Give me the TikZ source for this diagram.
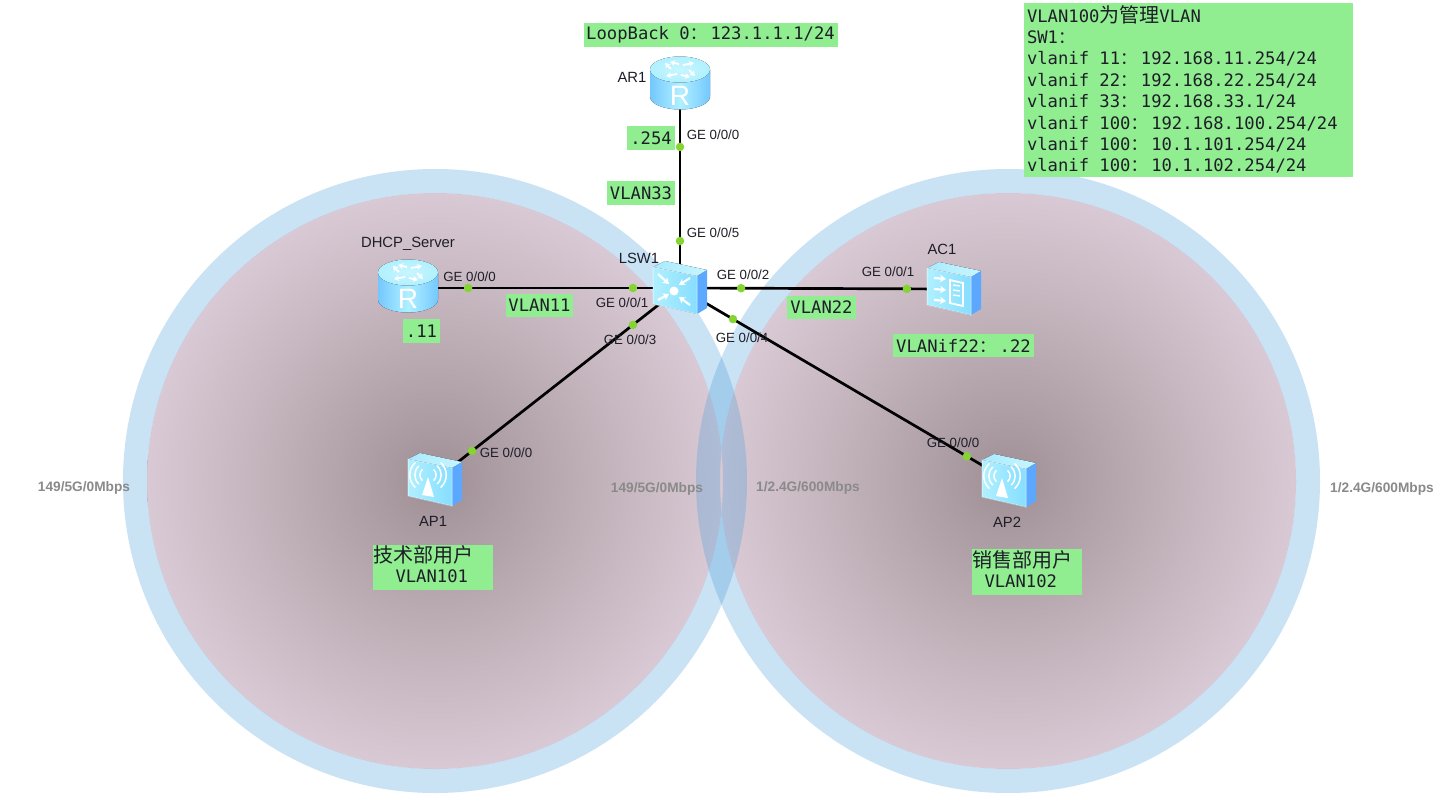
\documentclass[tikz,border=0pt]{standalone}
\usepackage{fontspec}
\setmainfont{Liberation Sans}
\newfontfamily\monof{DejaVu Sans Mono}
\newfontfamily\cjkf{Noto Sans CJK SC}
\usetikzlibrary{arrows.meta}
\definecolor{tagg}{HTML}{90EE90}
\definecolor{ringb}{HTML}{4F9FDB}
\definecolor{disc0}{HTML}{9F8F95}
\definecolor{disc1}{HTML}{BEAFB7}
\definecolor{disc2}{HTML}{D9C9D4}
\definecolor{portg}{HTML}{84D432}
\definecolor{speedc}{HTML}{8A8A8A}
\definecolor{ink}{HTML}{1E1E28}
\definecolor{IconTop}{HTML}{A8EAFF}
\definecolor{IconTopB}{HTML}{C8F6FF}
\definecolor{IconFrontA}{HTML}{B0F0FF}
\definecolor{IconFrontB}{HTML}{86DEFF}
\definecolor{IconSide}{HTML}{5CA8FF}
\definecolor{IconBody}{HTML}{74C8FF}
\pgfdeclareradialshading{discshade}{\pgfpointorigin}{color(0bp)=(disc0); color(13bp)=(disc1); color(25bp)=(disc2); color(50bp)=(disc2)}
\newcommand\fwc{\makebox[20.7pt][l]{\cjkf\fontsize{17}{17}\selectfont ：}}
\newcommand\cn[1]{{\cjkf\fontsize{20}{20}\selectfont #1}}
\newcommand\boxbody{%
  \fill[left color=IconTop,right color=IconTopB] (-27,-21) -- (-15,-27) -- (27,-18) -- (17,-12) -- cycle;
  \fill[left color=IconFrontA,right color=IconFrontB] (-27,-21) -- (17,-12) -- (17,26) -- (-27,16) -- cycle;
  \fill[IconSide] (17,-12) -- (27,-18) -- (27,20) -- (17,26) -- cycle;
  \draw[white,draw opacity=.45,line width=1pt] (-27,-21) -- (17,-12) -- (17,26) -- (-27,16) -- cycle;
}
\tikzset{
  x=1pt,y=-1pt,
  tag/.style={fill=tagg,text=ink,inner sep=0pt,font=\monof\fontsize{17.2}{21.4}\selectfont},
  portdot/.style={circle,fill=portg,inner sep=0pt,minimum size=8.5pt},
  portlbl/.style={text=ink,inner sep=0pt,font=\fontsize{13.3}{15}\selectfont},
  devlbl/.style={text=ink,inner sep=0pt,font=\fontsize{14.8}{16}\selectfont},
  speed/.style={text=speedc,inner sep=0pt,font=\bfseries\fontsize{13.7}{15}\selectfont},
  link/.style={draw=black,line width=2.7pt},
  dev/.style={inner sep=0pt,minimum size=1pt},
  wh/.style={draw=white,line width=1.8pt},
  wa/.style={draw=white,line width=2.2pt,-{Stealth[length=6pt,width=7.5pt]}},
  wb/.style={draw=white,line width=1.8pt,-{Stealth[length=5pt,width=6pt]}},
  router/.pic={
    \fill[left color=IconBody,right color=IconBody,middle color=IconFrontA]
      (-30,-15.5) -- (-30,11.5) .. controls (-30,19) and (-16,24.5) .. (0,24.5) .. controls (16,24.5) and (30,19) .. (30,11.5) -- (30,-15.5) -- cycle;
    \fill[inner color=IconTopB,outer color=IconFrontA] (0,-15.5) ellipse [x radius=30pt,y radius=13pt];
    \draw[wb] (-9,-16) -- (-15,-22);
    \draw[wb] (-1,-21) -- (-10,-23);
    \draw[wb] (9,-15) -- (15,-9);
    \draw[wb] (1,-10) -- (10,-8);
    \draw[wb] (3,-20) -- (14,-22);
    \draw[wb] (-3,-11) -- (-14,-9);
    \node[text=white,inner sep=0pt,font=\fontsize{28}{28}\selectfont] (-r) at (0,10.5) {R};
  },
  lswicon/.pic={
    \boxbody
    \fill[white] (-6,3) circle[radius=4.5pt];
    \draw[wa] (-22,-14) -- (-11,-4);
    \draw[wa] (10,-10) -- (-1,-3);
    \draw[wa] (-22,12) -- (-11,6);
    \draw[wa] (10,17) -- (-1,9);
  },
  apicon/.pic={
    \boxbody
    \fill[white] (-7,-3) -- (-1,17) -- (-13,15) -- cycle;
    \foreach \r in {8,13,18}{
      \draw[white,line width=1.5pt] ({-7+.7*\r},{-5-.7*\r}) .. controls ({-7+1.12*\r},{-5-.3*\r}) and ({-7+1.12*\r},{-5+.3*\r}) .. ({-7+.7*\r},{-5+.7*\r});
      \draw[white,line width=1.5pt] ({-7-.7*\r},{-5-.7*\r}) .. controls ({-7-1.12*\r},{-5-.3*\r}) and ({-7-1.12*\r},{-5+.3*\r}) .. ({-7-.7*\r},{-5+.7*\r});
    }
  },
  acicon/.pic={
    \boxbody
    \foreach \yy in {-11,0,11}{\draw[wa] (-20,\yy) -- (-8,\yy+1);}
    \draw[wh] (-4,-9) -- (9,-6) -- (9,17) -- (-4,14) -- cycle;
    \draw[white,line width=1.4pt] (-1,-4) -- (6,-3) (-1,1) -- (6,2) (-1,6) -- (6,7);
  },
}
\begin{document}
\begin{tikzpicture}[x=1pt,y=-1pt]
\useasboundingbox (0,0) rectangle (1446,798);
\fill[white] (0,0) rectangle (1446,798);
% discs
\path[shading=discshade] (435,481) circle[radius=288pt];
\path[shading=discshade] (1008,481) circle[radius=288pt];
\fill[ringb,fill opacity=.3,even odd rule] (435,481) circle[radius=312pt] (435,481) circle[radius=288pt];
\fill[ringb,fill opacity=.3,even odd rule] (1008,481) circle[radius=312pt] (1008,481) circle[radius=288pt];
% devices
\node[dev] (ar1) at (680,85) {};
\node[dev] (lsw1) at (680,288) {};
\node[dev] (dhcp) at (408,288) {};
\node[dev] (ac1) at (954,289) {};
\node[dev] (ap1) at (435,480) {};
\node[dev] (ap2) at (1009,481) {};
% connectors
\draw[link] (lsw1.center) -- (ar1.center) node[portdot,pos=.2315] (p5) {} node[portdot,pos=.695] (p0a) {};
\draw[link] (lsw1.center) -- (dhcp.center) node[portdot,pos=.173] (p1) {} node[portdot,pos=.779] (p0d) {};
\draw[link] (lsw1.center) -- (ac1.center) node[portdot,pos=.223] (p2) {} node[portdot,pos=.828] (p1c) {};
\draw[link] (lsw1.center) -- (ap1.center) node[portdot,pos=.192] (p3) {} node[portdot,pos=.849] (p0p) {};
\draw[link] (lsw1.center) -- (ap2.center) node[portdot,pos=.161] (p4) {} node[portdot,pos=.872] (p0q) {};
% icons
\pic (ar1i) at (ar1) {router};
\pic (dhcpi) at (dhcp) {router};
\pic at (lsw1) {lswicon};
\pic at (ac1) {acicon};
\pic at (ap1) {apicon};
\pic at (ap2) {apicon};
% device labels
\node[devlbl] (lar1) at (632,77) {AR1};
\node[devlbl] (ldhcp) at (408,244) {DHCP\_Server};
\node[devlbl] (llsw) at (639,258) {LSW1};
\node[devlbl] (lac1) at (942,249) {AC1};
\node[devlbl] (lap1) at (433,521) {AP1};
\node[devlbl] (lap2) at (1007,522) {AP2};
% port labels
\node[portlbl] (t1) at (713,135) {GE 0/0/0};
\node[portlbl] (t2) at (713,233) {GE 0/0/5};
\node[portlbl] (t3) at (469.5,276.5) {GE 0/0/0};
\node[portlbl] (t4) at (622,303) {GE 0/0/1};
\node[portlbl] (t5) at (630,340) {GE 0/0/3};
\node[portlbl] (t6) at (743,275) {GE 0/0/2};
\node[portlbl] (t7) at (888,272) {GE 0/0/1};
\node[portlbl] (t8) at (742,338) {GE 0/0/4};
\node[portlbl] (t9) at (506,453) {GE 0/0/0};
\node[portlbl] (t10) at (953,443) {GE 0/0/0};
% speeds
\node[speed] (s1) at (84,488) {149/5G/0Mbps};
\node[speed] (s2) at (657,489) {149/5G/0Mbps};
\node[speed] (s3) at (808,488) {1/2.4G/600Mbps};
\node[speed] (s4) at (1382,489) {1/2.4G/600Mbps};
% tags
\node[tag,minimum width=254pt,minimum height=24pt] (g1) at (710.5,35) {LoopBack 0\fwc 123.1.1.1/24};
\node[tag,minimum width=48pt,minimum height=24pt] (g2) at (651,138) {.254};
\node[tag,minimum width=68pt,minimum height=24pt] (g3) at (641,193) {VLAN33};
\node[tag,minimum width=67pt,minimum height=23pt] (g4) at (539.5,305.5) {VLAN11};
\node[tag,minimum width=37pt,minimum height=24pt] (g5) at (421.5,331) {.11};
\node[tag,minimum width=69pt,minimum height=23pt] (g6) at (821.5,307.5) {VLAN22};
\node[tag,minimum width=141pt,minimum height=23pt] (g7) at (963.5,345.5) {VLANif22\fwc .22};
\node[tag,minimum width=120pt,minimum height=45pt,text width=119pt,align=flush left] (g8) at (433,567.5) {\cn{技术部用户}\\[-1pt]\hspace*{22pt}VLAN101\\[-15pt]\mbox{}};
\node[tag,minimum width=110pt,minimum height=46pt,text width=109pt,align=flush left] (g9) at (1027,572) {\cn{销售部用户}\\[-1pt]\hspace*{12pt}VLAN102\\[-15pt]\mbox{}};
\node[tag,minimum width=329pt,minimum height=174pt,text width=323pt,align=flush left] (g10) at (1188.5,90) {VLAN100\cn{为管理}VLAN\\
SW1\fwc\\
vlanif 11\fwc 192.168.11.254/24\\
vlanif 22\fwc 192.168.22.254/24\\
vlanif 33\fwc 192.168.33.1/24\\
vlanif 100\fwc 192.168.100.254/24\\
vlanif 100\fwc 10.1.101.254/24\\
vlanif 100\fwc 10.1.102.254/24\\[-18.4pt]\mbox{}};
\end{tikzpicture}
\end{document}
